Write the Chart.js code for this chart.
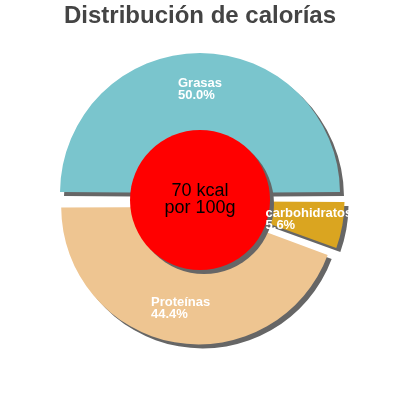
<!DOCTYPE html>
<html>
<head>
<meta charset="utf-8">
<script src="https://cdn.jsdelivr.net/npm/chart.js@4/dist/chart.umd.min.js"></script>
<style>
  html, body { margin: 0; padding: 0; background: #fff; }
  #wrap { width: 400px; height: 400px; }
</style>
</head>
<body>
<div id="wrap"><canvas id="pie" width="400" height="400"></canvas></div>
<script>
// ====== DATA ======
const categories = ['Grasas', 'carbohidratos', 'Proteínas'];
const percents = [50.0, 5.6, 44.4];
const sliceColors = ['#7AC5CD', '#DAA520', '#EEC591'];
const centerLines = ['70 kcal', 'por 100g'];
const chartTitle = 'Distribución de calorías';

const FONT = '"Liberation Sans", Arial, sans-serif';

// ====== SHADOW UNDER SLICES ======
const shadowPlugin = {
    id: 'sliceShadow',
    beforeDatasetsDraw(chart) {
        const ctx = chart.ctx;
        ctx.save();
        ctx.shadowColor = '#666666';
        ctx.shadowBlur = 0;
        ctx.shadowOffsetX = 4;
        ctx.shadowOffsetY = 4;
    },
    afterDatasetsDraw(chart) {
        chart.ctx.restore();
    }
};

// ====== RED CENTER + SLICE LABELS ======
const overlayPlugin = {
    id: 'overlay',
    afterDatasetsDraw(chart) {
        const ctx = chart.ctx;
        const arcs = chart.getDatasetMeta(0).data;

        // red circle in the middle
        const a0 = arcs[0].getProps(['x', 'y', 'outerRadius']);
        const rFull = a0.outerRadius + (arcs[0].options.offset || 0) / 4;
        ctx.save();
        ctx.shadowColor = '#666666';
        ctx.shadowOffsetX = 4;
        ctx.shadowOffsetY = 4;
        ctx.beginPath();
        ctx.arc(a0.x, a0.y, rFull * 0.5, 0, Math.PI * 2);
        ctx.fillStyle = '#ff0000';
        ctx.fill();
        ctx.restore();

        ctx.save();
        ctx.font = '18px ' + FONT;
        ctx.fillStyle = '#000000';
        ctx.textAlign = 'center';
        ctx.textBaseline = 'middle';
        ctx.fillText(centerLines[0], a0.x, a0.y - 9);
        ctx.fillText(centerLines[1], a0.x, a0.y + 8);
        ctx.restore();

        // Chart.js shifts an offset arc by offset/4 and grows it by the same amount
        ctx.save();
        ctx.font = 'bold 13px ' + FONT;
        ctx.fillStyle = '#ffffff';
        ctx.textAlign = 'left';
        ctx.textBaseline = 'middle';
        arcs.forEach((arc, i) => {
            const p = arc.getProps(['x', 'y', 'startAngle', 'endAngle', 'outerRadius']);
            const shift = (arc.options.offset || 0) / 4;
            const mid = (p.startAngle + p.endAngle) / 2;
            const d = shift + (p.outerRadius + shift) * 0.74;
            const ax = p.x + Math.cos(mid) * d;
            const ay = p.y + Math.sin(mid) * d;
            const w = ctx.measureText(categories[i]).width;
            ctx.fillText(categories[i], ax - w / 2, ay - 6);
            ctx.fillText(percents[i].toFixed(1) + '%', ax - w / 2, ay + 6);
        });
        ctx.restore();
    }
};

// ====== INIT ======
const pieCtx = document.getElementById('pie').getContext('2d');
new Chart(pieCtx, {
    type: 'pie',
    data: {
        labels: categories,
        datasets: [{
            data: percents,
            backgroundColor: sliceColors,
            borderWidth: 0,
            offset: 28,
            hoverOffset: 0
        }]
    },
    options: {
        responsive: false,
        animation: false,
        rotation: -90,
        radius: 133,
        layout: { padding: { bottom: 40 } },
        plugins: {
            legend: { display: false },
            tooltip: { enabled: false },
            title: {
                display: true,
                text: chartTitle,
                color: '#444444',
                font: { family: FONT, size: 24, weight: 'bold' },
                padding: { top: 2, bottom: 9.2 }
            }
        }
    },
    plugins: [shadowPlugin, overlayPlugin]
});
</script>
</body>
</html>
